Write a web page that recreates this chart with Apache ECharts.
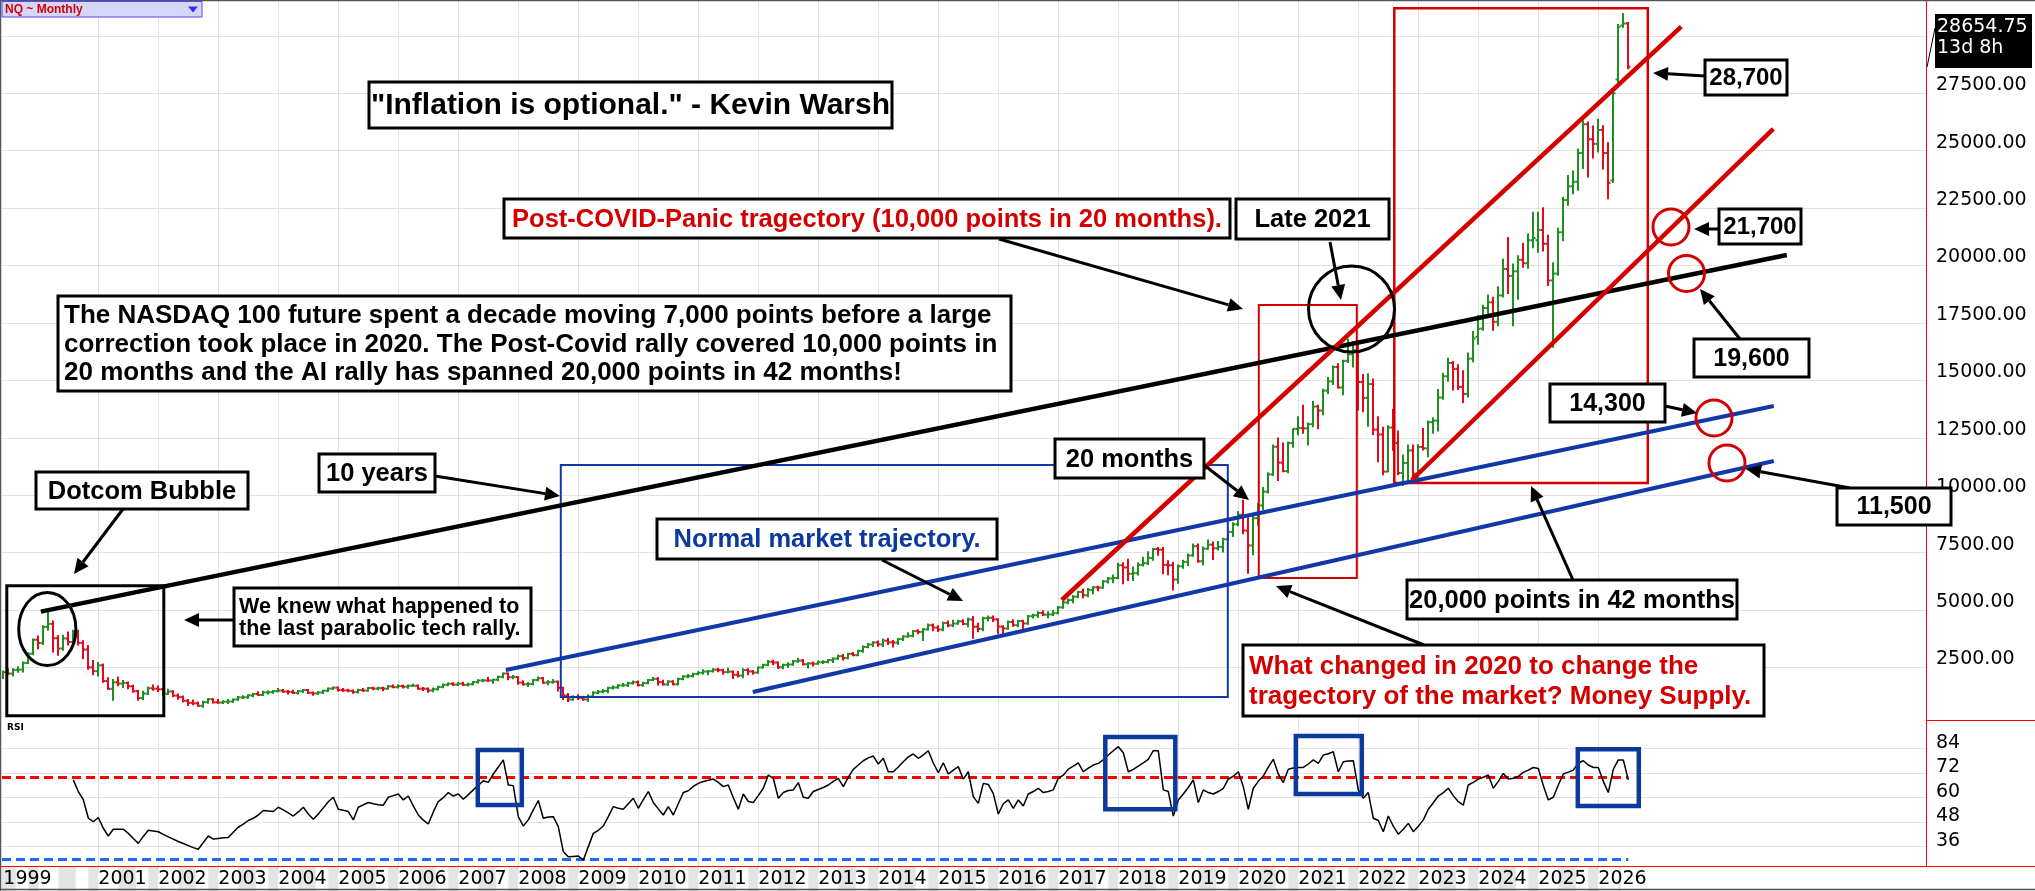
<!DOCTYPE html>
<html><head><meta charset="utf-8">
<script src="https://cdn.jsdelivr.net/npm/echarts@6/dist/echarts.min.js"></script>
<style>html,body{margin:0;padding:0;background:#fff;}#c{width:2035px;height:891px;}</style>
</head><body><div id="c"></div>
<script>
// ---------- DATA ----------
// month index: 0 = Jan 2000 ; first bar = Jun 1999
const firstMonth = -7;
// monthly bars [open, high, low, close]
const ohlc = [
// 1999 Jun-Dec
[2110,2320,2040,2296],[2296,2420,2220,2234],[2234,2420,2150,2396],[2396,2510,2310,2407],[2407,2720,2330,2700],[2700,3120,2690,3100],[3100,3720,3080,3708],
// 2000
[3708,3850,3340,3570],[3570,4290,3520,4266],[4266,4900,4140,4397],[4397,4500,3200,3774],[3774,3870,3050,3325],[3325,3880,3270,3763],
[3763,4020,3500,3609],[3609,4100,3550,4078],[4078,4100,3500,3571],[3571,3640,2900,3283],[3283,3430,2450,2506],[2506,2780,2200,2341],
// 2001
[2341,2700,2150,2593],[2593,2630,1880,1908],[1908,2030,1560,1573],[1573,1960,1090,1855],[1855,2060,1730,1800],[1800,1910,1650,1830],
[1830,1850,1600,1683],[1683,1710,1440,1469],[1469,1490,1090,1168],[1168,1440,1130,1364],[1364,1630,1340,1596],[1596,1720,1530,1577],
// 2002
[1577,1670,1480,1550],[1550,1560,1300,1359],[1359,1530,1350,1452],[1452,1460,1250,1277],[1277,1320,1140,1208],[1208,1240,1020,1051],
[1051,1080,870,962],[962,1060,900,942],[942,970,830,832],[832,1010,795,989],[989,1130,960,1116],[1116,1120,970,984],
// 2003
[984,1080,960,973],[973,1030,950,1011],[1011,1080,955,1018],[1018,1110,1005,1106],[1106,1210,1095,1197],[1197,1250,1175,1201],
[1201,1290,1185,1283],[1283,1350,1245,1345],[1345,1420,1300,1303],[1303,1440,1300,1416],[1416,1450,1370,1424],[1424,1480,1400,1468],
// 2004
[1468,1560,1460,1494],[1494,1520,1440,1450],[1450,1480,1370,1438],[1438,1490,1390,1393],[1393,1480,1370,1466],[1466,1520,1430,1516],
[1516,1520,1390,1400],[1400,1410,1310,1369],[1369,1430,1360,1412],[1412,1490,1390,1486],[1486,1590,1480,1582],[1582,1630,1560,1621],
// 2005
[1621,1630,1500,1519],[1519,1560,1480,1504],[1504,1530,1460,1483],[1483,1500,1400,1424],[1424,1530,1410,1514],[1514,1560,1490,1493],
[1493,1610,1485,1606],[1606,1620,1550,1580],[1580,1620,1555,1601],[1601,1620,1510,1578],[1578,1690,1570,1678],[1678,1720,1640,1645],
// 2006
[1645,1730,1630,1692],[1692,1710,1630,1662],[1662,1720,1620,1704],[1704,1750,1690,1706],[1706,1720,1570,1578],[1578,1610,1520,1575],
[1575,1580,1440,1499],[1499,1580,1470,1554],[1554,1660,1540,1654],[1654,1760,1640,1747],[1747,1800,1730,1791],[1791,1810,1740,1757],
// 2007
[1757,1830,1740,1794],[1794,1840,1740,1744],[1744,1790,1720,1772],[1772,1870,1770,1863],[1863,1940,1850,1934],[1934,1960,1900,1934],
[1934,2040,1920,1933],[1933,1970,1830,1968],[1968,2100,1940,2091],[2091,2240,2080,2239],[2239,2240,1990,2077],[2077,2130,2030,2085],
// 2008
[2085,2090,1790,1841],[1841,1900,1760,1770],[1770,1820,1690,1781],[1781,1960,1770,1950],[1950,2060,1940,2030],[2030,2040,1830,1837],
[1837,1900,1770,1860],[1860,1960,1840,1880],[1880,1890,1500,1615],[1615,1620,1130,1282],[1282,1350,1040,1108],[1108,1250,1100,1212],
// 2009
[1212,1290,1130,1175],[1175,1230,1100,1110],[1110,1290,1040,1237],[1237,1420,1220,1403],[1403,1480,1380,1446],[1446,1520,1420,1477],
[1477,1620,1420,1612],[1612,1670,1590,1631],[1631,1730,1620,1718],[1718,1780,1700,1725],[1725,1830,1690,1814],[1814,1890,1800,1860],
// 2010
[1860,1890,1720,1731],[1731,1830,1700,1819],[1819,1960,1810,1957],[1957,2040,1950,2005],[2005,2040,1760,1863],[1863,1920,1760,1764],
[1764,1900,1750,1886],[1886,1900,1770,1769],[1769,2010,1760,2000],[2000,2120,1990,2112],[2112,2170,2070,2124],[2124,2230,2110,2218],
// 2011
[2218,2290,2200,2268],[2268,2380,2240,2324],[2324,2350,2210,2338],[2338,2420,2320,2404],[2404,2440,2340,2385],[2385,2400,2230,2296],
[2296,2440,2290,2317],[2317,2330,2040,2183],[2183,2300,2110,2146],[2146,2420,2080,2389],[2389,2420,2200,2329],[2329,2350,2230,2278],
// 2012
[2278,2500,2270,2500],[2500,2620,2500,2615],[2615,2780,2600,2751],[2751,2790,2640,2715],[2715,2720,2480,2511],[2511,2620,2470,2615],
[2615,2680,2530,2632],[2632,2780,2620,2770],[2770,2880,2750,2800],[2800,2830,2630,2640],[2640,2680,2500,2677],[2677,2720,2590,2661],
// 2013
[2661,2760,2660,2731],[2731,2770,2700,2739],[2739,2830,2730,2819],[2819,2890,2740,2887],[2887,3020,2880,2990],[2990,3040,2850,2910],
[2910,3100,2900,3094],[3094,3130,3030,3036],[3036,3230,3030,3218],[3218,3410,3180,3393],[3393,3520,3380,3500],[3500,3600,3440,3592],
// 2014
[3592,3630,3450,3505],[3505,3720,3430,3668],[3668,3740,3520,3596],[3596,3650,3410,3582],[3582,3740,3520,3736],[3736,3860,3700,3849],
[3849,3990,3840,3880],[3880,4090,3860,4083],[4083,4120,3990,4049],[4049,4160,3700,4158],[4158,4370,4150,4339],[4339,4370,4120,4236],
// 2015
[4236,4300,4090,4153],[4153,4450,4120,4439],[4439,4500,4300,4334],[4334,4530,4300,4414],[4414,4540,4400,4508],[4508,4560,4380,4396],
[4396,4630,4290,4588],[4588,4700,3790,4274],[4274,4400,4080,4181],[4181,4660,4120,4648],[4648,4720,4560,4664],[4664,4720,4520,4593],
// 2016
[4593,4600,4000,4279],[4279,4300,3960,4201],[4201,4500,4190,4483],[4483,4560,4320,4341],[4341,4540,4300,4523],[4523,4530,4210,4418],
[4418,4740,4400,4731],[4731,4800,4680,4771],[4771,4900,4700,4875],[4875,4940,4780,4801],[4801,4900,4690,4810],[4810,4960,4790,4864],
// 2017
[4864,5130,4860,5118],[5118,5350,5100,5330],[5330,5460,5300,5436],[5436,5610,5340,5584],[5584,5800,5560,5788],[5788,5900,5560,5647],
[5647,5920,5600,5880],[5880,6000,5730,5988],[5988,6010,5860,5979],[5979,6260,5970,6248],[6248,6400,6200,6374],[6374,6500,6210,6397],
// 2018
[6397,7020,6380,6949],[6949,7040,6170,6854],[6854,7190,6310,6582],[6582,6850,6310,6605],[6605,7030,6550,6967],[6967,7280,6940,7040],
[7040,7520,7010,7272],[7272,7660,7190,7658],[7658,7700,7410,7627],[7627,7700,6600,6967],[6967,7130,6560,6949],[6949,7050,5900,6330],
// 2019
[6330,6940,6190,6907],[6907,7150,6840,7097],[7097,7420,6960,7378],[7378,7850,7370,7781],[7781,7860,7100,7127],[7127,7720,6980,7672],
[7672,8030,7670,7848],[7848,7940,7220,7692],[7692,7960,7640,7750],[7750,8110,7550,8084],[8084,8440,8080,8403],[8403,8780,8230,8733],
// 2020
[8733,9270,8690,9150],[9150,9760,8340,8462],[8462,9000,6630,7813],[7813,9070,7430,9000],[9000,9620,8700,9556],[9556,10310,9400,10156],
[10156,10960,10120,10906],[10906,12170,10880,12111],[12111,12470,10660,11418],[11418,12250,11040,11052],[11052,12300,11000,12269],[12269,12860,12110,12888],
// 2021
[12888,13400,12650,12925],[12925,13900,12720,12909],[12909,13120,12210,13091],[13091,14060,13000,13861],[13861,13900,12920,13687],[13687,14590,13530,14554],
[14554,15100,14450,14959],[14959,15600,14840,15583],[15583,15700,14690,14690],[14690,15860,14400,15850],[15850,16770,15800,16135],[16135,16660,15600,16320],
// 2022
[16320,16580,13730,14930],[14930,15240,13660,14238],[14238,15270,13020,14839],[14839,15040,12660,12855],[12855,13400,11480,12643],[12643,12940,10910,11028],
[11028,13000,11040,12947],[12947,13720,11980,12272],[12272,12780,10910,10971],[10971,11730,10440,11405],[11405,12160,10670,11952],[11952,12170,10690,10940],
// 2023
[10940,12180,10700,12101],[12101,12880,11990,12042],[12042,13210,11700,13181],[13181,13340,12720,13246],[13246,14580,12820,14254],[14254,15290,14200,15179],
[15179,15940,14980,15758],[15758,15800,14600,15501],[15501,15660,14630,14715],[14715,15400,14060,14410],[14410,16170,14300,15947],[15947,17110,15830,16826],
// 2024
[16900,17800,16600,17250],[17250,18250,17200,18150],[18150,18700,17950,18400],[18400,18600,17200,17550],[17550,19050,17400,18700],[18700,20250,18650,19850],
[19850,21200,18800,19550],[19550,20050,17400,19750],[19750,20400,18550,20250],[20250,20950,19950,20100],[20100,21350,19900,21100],[21100,22300,20800,21200],
// 2025
[21100,22300,20600,21550],[21550,22500,20650,20950],[20950,21300,19150,19350],[19350,20100,16460,19650],[19650,21600,19600,21450],[21450,22950,21100,22850],
[22850,23900,22650,23450],[23450,24100,23150,23650],[23650,25050,23300,24900],[24900,26280,24250,26150],[26150,26230,23880,25500],[25500,26050,24700,25300],
// 2026 Jan-Jul
[25300,26350,24970,25900],[25900,26060,24230,24900],[24900,25330,22930,23600],[23700,27700,23650,27500],[28100,30470,28000,30400],[30450,30950,30400,30540],[30540,30560,28590,28655]
];
// RSI (14, monthly), first value Aug 2000
const rsiStart = 7;
const rsi = [
68.7,63,59,50,48.2,
50.3,45,41.2,44.5,44.5,44.5,42.5,40,37.6,41,44,43.7,
43.3,42,40.8,39.7,38.5,37.5,36.5,35.5,34.7,38,41.2,39.7,
40,40.3,40.5,43,45.5,47,48.8,49.9,51.5,53.7,53.5,53.2,
55.3,54,52.5,51,53,55.3,52,49.4,52,55,58,60.2,
54.3,53.8,53.2,49.1,55.3,56.5,57.6,57,56.5,56.3,60.2,61,
61.8,58.9,60.8,56,51.5,49,47.1,53,58.1,60,62.5,60.8,
61.8,59.2,61.5,63.8,66,68.3,67.5,71.6,75,78.5,66.2,65.9,
50.7,46.1,49.1,54,58.6,49.9,50.5,50.7,45.8,33.5,31,31.2,
31.4,29.4,36,42.5,44,46.1,50.7,55.6,54.8,54.3,57,59.7,
54.8,59,63,57.6,54.5,51.5,55.6,51.5,57,62.5,63.4,65.5,
67,67.9,68.5,69.1,67.5,65.4,66.2,60,54.3,61.8,58.1,57.6,
61,64.6,71.1,69.5,59.7,62.5,63.5,63.8,67.4,60.2,59.7,63,
64,65,66.2,68,69.5,65.4,70,73.9,76,78.1,79.5,80.4,
76.5,79.3,72.7,72.7,75,77.6,80,81.4,79.3,81,83,77,
72.2,77.1,71.6,73.5,75.2,69.1,72.7,60.5,57.2,67,66.5,62,
52,57,58.9,54.8,58.9,55.9,61.8,63,64.6,62.5,63,63.8,
69.5,71,74,75.5,77.1,72.7,74.5,76,76.8,78.5,80.9,83,
85,82,72.7,73.9,75.5,77.1,78.8,83,83,63.8,63,51,
58.9,61.8,65,68.7,57.6,63.8,62.5,61.8,63,64.6,69.1,70.5,
72.7,65.4,54.3,64.6,68,70.6,75,78.8,71.6,67.4,73.9,74.5,
74.8,74.8,76.5,78.5,76.8,80.9,81.5,82.5,72.7,77.6,78,78.1,
63.8,59.7,62.5,49.9,48.8,43.3,51,46,42.1,44.5,47.4,43.3,
46,49.1,54.3,57.5,60.8,62.5,64.6,61,58,56.4,66.2,67.5,
69.1,70,71.1,64.6,68,71.9,69.1,69.5,70.4,72.4,73.5,74.8,
74.3,66,58.9,60.2,66.2,71.6,72.5,73.5,77,78.1,76,74.8,
74.8,68,62.5,73.9,78.5,78.5,68.7
];
const rsiLevels = [70, 30];
const yearLabels = ['1999','2001','2002','2003','2004','2005','2006','2007','2008','2009','2010','2011','2012','2013','2014','2015','2016','2017','2018','2019','2020','2021','2022','2023','2024','2025','2026'];
const priceLabelTicks = [2500,5000,7500,10000,12500,15000,17500,20000,22500,25000,27500];
const priceGridTicks = [2500,5000,7500,10000,12500,15000,17500,20000,22500,25000,27500,30000];
const rsiTicks = [36,48,60,72,84];
const lastPrice = '28654.75';
const barTimeLeft = '13d 8h';

// trend lines drawn on the chart, in [month, price]
const trendBlack = [[0.5,4930],[349.7,20460]];
const trendBlueUpper = [[93.5,2390],[347.1,13885]];
const trendBlueLower = [[142.9,1433],[347.1,11490]];
const trendRedUpper = [[204.7,5438],[328.6,30400]];
const trendRedLower = [[274.7,10663],[347,25946]];
// highlight rectangles [m1, v1, m2, v2]
const rectDotcom = [-6.3,6061,25.1,401];
const rectNormal = [104.5,11316,237.9,1215];
const rectCovid = [244.1,18283,263.7,6396];
const rectAI = [271.2,31201,321.9,10533];
// RSI highlight boxes [m1, r1, m2, r2]
const rsiBoxes = [[87.9,83.4,96.7,56.4],[213.4,89.7,227.4,54.3],[251.5,90.2,264.7,61.8],[307.9,83.7,320.1,55.9]];

// ---------- LAYOUT ----------
const X_MIN = -7.26, X_MAX = 377.54;
const P_MAX = 31562;
const GREEN = '#1f8f1f', RED = '#e00b1c', NAVY = '#0b3a9c', TRED = '#d40000';
const yearMonth = l => l === '1999' ? firstMonth : (Number(l) - 2000) * 12;
const labelByMonth = {};
yearLabels.forEach(l => { labelByMonth[yearMonth(l)] = l; });
const tickMonths = yearLabels.map(yearMonth);
const gridMonths = yearLabels.filter(l => l !== '1999').map(yearMonth);

const barData = ohlc.map((r, i) => [firstMonth + i, r[0], r[1], r[2], r[3]]);
const rsiData = rsi.map((r, i) => [rsiStart + i, r]);
const lastM = firstMonth + ohlc.length - 1;

// date strip shading blocks
const stripes = [];
for (let y = 1999; y <= 2026; y++) {
  const m0 = (y - 2000) * 12;
  [[m0 + 4, m0 + 7.5], [m0 + 10, m0 + 12]].forEach(([a, b]) => {
    const aa = Math.max(a, X_MIN), bb = Math.min(b, lastM - 1.5);
    if (bb > aa) stripes.push([{xAxis: aa}, {xAxis: bb}]);
  });
}

function seg(p, color, w) {
  return [{coord: p[0], lineStyle: {color: color, width: w, type: 'solid'}}, {coord: p[1]}];
}
function rectArea(r, color, w) {
  return [{coord: [r[0], r[1]], itemStyle: {color: 'rgba(0,0,0,0)', borderColor: color, borderWidth: w}}, {coord: [r[2], r[3]]}];
}

// ---------- ANNOTATIONS (screen) ----------
const FONT = '"Liberation Sans", Arial, sans-serif';
const notes = [
  {x:369,y:82,w:523,h:46,t:'"Inflation is optional." - Kevin Warsh',c:'#000',s:30},
  {x:504,y:199,w:726,h:39,t:'Post-COVID-Panic tragectory (10,000 points in 20 months).',c:TRED,s:25.5},
  {x:1236,y:199,w:153,h:40,t:'Late 2021',c:'#000',s:25.5},
  {x:58,y:296,w:953,h:95,t:'The NASDAQ 100 future spent a decade moving 7,000 points before a large\ncorrection took place in 2020. The Post-Covid rally covered 10,000 points in\n20 months and the AI rally has spanned 20,000 points in 42 months!',c:'#000',s:26,lh:28.6,left:64},
  {x:36,y:472,w:212,h:37,t:'Dotcom Bubble',c:'#000',s:25.5},
  {x:319,y:454,w:116,h:38,t:'10 years',c:'#000',s:25.5},
  {x:1055,y:439,w:149,h:39,t:'20 months',c:'#000',s:25.5},
  {x:657,y:519,w:340,h:40,t:'Normal market trajectory.',c:NAVY,s:25.5},
  {x:234,y:588,w:297,h:58,t:'We knew what happened to\nthe last parabolic tech rally.',c:'#000',s:21.5,lh:22.5,left:239},
  {x:1243,y:645,w:521,h:71,t:'What changed in 2020 to change the\ntragectory of the market? Money Supply.',c:TRED,s:26,lh:30,left:1249},
  {x:1407,y:580,w:330,h:39,t:'20,000 points in 42 months',c:'#000',s:25.5},
  {x:1550,y:384,w:115,h:38,t:'14,300',c:'#000',s:25},
  {x:1694,y:339,w:115,h:38,t:'19,600',c:'#000',s:25},
  {x:1837,y:488,w:114,h:37,t:'11,500',c:'#000',s:25},
  {x:1719,y:209,w:82,h:35,t:'21,700',c:'#000',s:24},
  {x:1705,y:60,w:82,h:35,t:'28,700',c:'#000',s:24}
];
const arrows = [
  [123,509,74,574],[234,620,184,620],[435,476,560,496],[1204,465,1249,500],
  [999,239,1243,309],[1330,242,1341,300],[882,560,963,601],[1573,580,1531,486],
  [1424,645,1276,586],[1665,406,1697,413],[1740,339,1700,289],[1719,229,1694,229],
  [1705,76,1653,73],[1850,488,1746,469]
];
const circles = [
  {cx:47.3,cy:629,rx:28.6,ry:36.5,c:'#000'},
  {cx:1351.5,cy:309,rx:43,ry:43,c:'#000'},
  {cx:1671,cy:227,rx:18,ry:18,c:TRED},
  {cx:1686.5,cy:273.5,rx:18,ry:18,c:TRED},
  {cx:1714,cy:418,rx:18,ry:18,c:TRED},
  {cx:1727,cy:463,rx:18,ry:18,c:TRED}
];

const G = [];
// frame & panel lines
G.push({type:'line', shape:{x1:1926.5,y1:0,x2:1926.5,y2:866}, style:{stroke:'#ff0000',lineWidth:1}, z:50});
G.push({type:'line', shape:{x1:1926,y1:720.5,x2:2035,y2:720.5}, style:{stroke:'#ff0000',lineWidth:1}, z:50});
G.push({type:'line', shape:{x1:0,y1:866.5,x2:2035,y2:866.5}, style:{stroke:'#ff0000',lineWidth:1}, z:50});
G.push({type:'line', shape:{x1:0.5,y1:0,x2:0.5,y2:891}, style:{stroke:'#555',lineWidth:1.5}, z:50});
G.push({type:'line', shape:{x1:0,y1:0.5,x2:2035,y2:0.5}, style:{stroke:'#555',lineWidth:1.5}, z:50});
G.push({type:'line', shape:{x1:0,y1:889.5,x2:2035,y2:889.5}, style:{stroke:'#555',lineWidth:1.5}, z:50});
notes.forEach(n => {
  G.push({type:'rect', shape:{x:n.x,y:n.y,width:n.w,height:n.h}, style:{fill:'#fff',stroke:'#000',lineWidth:3}, z:100});
  G.push({type:'text', style:{text:n.t, x: n.left !== undefined ? n.left : n.x + n.w/2, y:n.y + n.h/2 + 1,
    align: n.left !== undefined ? 'left' : 'center', verticalAlign:'middle',
    font:'bold ' + n.s + 'px ' + FONT, fill:n.c, lineHeight:n.lh || n.s * 1.15}, z:101});
});
arrows.forEach(a => {
  const [x1,y1,x2,y2] = a;
  const dx = x2-x1, dy = y2-y1, L = Math.hypot(dx,dy), ux = dx/L, uy = dy/L;
  const hl = 15, hw = 7, bx = x2-ux*hl, by = y2-uy*hl;
  G.push({type:'line', shape:{x1:x1,y1:y1,x2:bx,y2:by}, style:{stroke:'#000',lineWidth:3}, z:99});
  G.push({type:'polygon', shape:{points:[[x2,y2],[bx-uy*hw,by+ux*hw],[bx+uy*hw,by-ux*hw]]}, style:{fill:'#000'}, z:99});
});
circles.forEach(c => {
  G.push({type:'ellipse', shape:{cx:c.cx,cy:c.cy,rx:c.rx,ry:c.ry}, style:{fill:'none',stroke:c.c,lineWidth:3}, z:98});
});
// symbol tab
G.push({type:'rect', shape:{x:2,y:1.5,width:200,height:15.5}, style:{fill:'#d6d6fb',stroke:'#4a4aff',lineWidth:1}, z:60});
G.push({type:'text', style:{text:'NQ ~ Monthly', x:5, y:9.5, verticalAlign:'middle', font:'bold 12px ' + FONT, fill:'#d10000'}, z:61});
G.push({type:'polygon', shape:{points:[[188,6.5],[198,6.5],[193,12.5]]}, style:{fill:'#3030ff'}, z:61});
G.push({type:'text', style:{text:'RSI', x:7, y:728, verticalAlign:'middle', font:'bold 9px "DejaVu Sans", sans-serif', fill:'#000'}, z:61});
// last price tag
G.push({type:'line', shape:{x1:1927,y1:67,x2:1935,y2:28}, style:{stroke:'#000',lineWidth:1}, z:60});
G.push({type:'rect', shape:{x:1935,y:14,width:97,height:54}, style:{fill:'#000'}, z:60});
G.push({type:'text', style:{text:lastPrice, x:1937, y:27, verticalAlign:'middle', font:'19px "DejaVu Sans", sans-serif', fill:'#fff'}, z:61});
G.push({type:'text', style:{text:barTimeLeft, x:1937, y:48, verticalAlign:'middle', font:'19px "DejaVu Sans", sans-serif', fill:'#fff'}, z:61});

const AXFONT = {fontFamily:'"DejaVu Sans", sans-serif', fontSize:19, color:'#000'};

const option = {
  animation: false,
  backgroundColor: '#fff',
  grid: [
    {left:2, right:109, top:0, bottom:166.1},
    {left:2, right:109, top:720, bottom:19.9},
    {left:2, right:109, top:866, bottom:0}
  ],
  xAxis: [
    {type:'value', gridIndex:0, min:X_MIN, max:X_MAX, show:false},
    {type:'value', gridIndex:1, min:X_MIN, max:X_MAX, show:false},
    {type:'value', gridIndex:2, min:X_MIN, max:X_MAX, position:'top', z:10,
      axisLine:{show:false},
      axisTick:{show:true, inside:true, length:5, customValues:tickMonths, lineStyle:{color:'#ff0000', width:1}},
      axisLabel:{show:true, inside:true, margin:4, align:'left', customValues:tickMonths,
        formatter: v => labelByMonth[v] || '', ...AXFONT},
      splitLine:{show:false}}
  ],
  yAxis: [
    {type:'value', gridIndex:0, position:'right', min:0, max:P_MAX, interval:2500,
      axisLine:{show:false},
      axisTick:{show:true, length:5, customValues:priceGridTicks, lineStyle:{color:'#ff0000'}},
      axisLabel:{show:true, margin:10, customValues:priceLabelTicks, formatter: v => Number(v).toFixed(2),
        verticalAlign:'bottom', lineHeight:16, ...AXFONT},
      splitLine:{show:false}},
    {type:'value', gridIndex:1, position:'right', min:24, max:98.07, interval:12,
      axisLine:{show:false},
      axisTick:{show:true, length:5, customValues:rsiTicks, lineStyle:{color:'#ff0000'}},
      axisLabel:{show:true, margin:10, customValues:rsiTicks, verticalAlign:'bottom', lineHeight:12, ...AXFONT},
      splitLine:{show:false}},
    {type:'value', gridIndex:2, min:0, max:1, show:false}
  ],
  series: [
    { // price grid lines
      type:'line', xAxisIndex:0, yAxisIndex:0, data:[], silent:true, z:0,
      markLine:{silent:true, symbol:['none','none'], z:1, label:{show:false},
        lineStyle:{color:'#e2e2e2', width:1, type:'solid'},
        data: priceGridTicks.map(v => ({yAxis:v})).concat(gridMonths.map(m => ({xAxis:m})))}
    },
    { // rsi grid lines
      type:'line', xAxisIndex:1, yAxisIndex:1, data:[], silent:true, z:0,
      markLine:{silent:true, symbol:['none','none'], z:1, label:{show:false},
        lineStyle:{color:'#e2e2e2', width:1, type:'solid'},
        data: rsiTicks.map(v => ({yAxis:v})).concat(gridMonths.map(m => ({xAxis:m})))}
    },
    { // date strip shading
      type:'line', xAxisIndex:2, yAxisIndex:2, data:[], silent:true,
      markArea:{silent:true, z:1, itemStyle:{color:'#e4e4e4'}, label:{show:false}, data:stripes}
    },
    { // OHLC bars
      type:'custom', name:'NQ', xAxisIndex:0, yAxisIndex:0, z:3, clip:true,
      data: barData, encode:{x:0, y:[1,2,3,4]},
      renderItem: function (params, api) {
        const m = api.value(0), o = api.value(1), h = api.value(2), l = api.value(3), c = api.value(4);
        const pH = api.coord([m, h]), pL = api.coord([m, l]), pO = api.coord([m, o]), pC = api.coord([m, c]);
        const col = c >= o ? GREEN : RED;
        const x = Math.round(pH[0]);
        const st = {stroke: col, lineWidth: 2};
        return {type:'group', children:[
          {type:'line', shape:{x1:x, y1:pH[1]-1, x2:x, y2:pL[1]+1}, style:st},
          {type:'line', shape:{x1:x-2.5, y1:pO[1], x2:x, y2:pO[1]}, style:st},
          {type:'line', shape:{x1:x, y1:pC[1], x2:x+2.5, y2:pC[1]}, style:st}
        ]};
      }
    },
    { // trend lines and rectangles on the price panel
      type:'line', xAxisIndex:0, yAxisIndex:0, data:[], silent:true,
      markLine:{silent:true, symbol:['none','none'], z:6, label:{show:false},
        data:[
          seg(trendBlack, '#000', 4.5),
          seg(trendBlueUpper, '#1238a8', 4),
          seg(trendBlueLower, '#1238a8', 4),
          seg(trendRedUpper, TRED, 4.5),
          seg(trendRedLower, TRED, 4.5)
        ]},
      markArea:{silent:true, z:6, label:{show:false},
        data:[
          rectArea(rectDotcom, '#000', 3),
          rectArea(rectNormal, '#1238a8', 2),
          rectArea(rectCovid, TRED, 2),
          rectArea(rectAI, TRED, 2.5)
        ]}
    },
    { // RSI
      type:'line', name:'RSI', xAxisIndex:1, yAxisIndex:1, z:4,
      data: rsiData, showSymbol:false, symbol:'none',
      lineStyle:{color:'#000', width:1.5},
      markLine:{silent:true, symbol:['none','none'], z:3, label:{show:false},
        data:[
          [{coord:[X_MIN, rsiLevels[0]], lineStyle:{color:'#ff0000', width:3, type:[9,5]}}, {coord:[lastM, rsiLevels[0]]}],
          [{coord:[X_MIN, rsiLevels[1]], lineStyle:{color:'#1a6cff', width:3, type:[9,5]}}, {coord:[lastM, rsiLevels[1]]}]
        ]},
      markArea:{silent:true, z:5, label:{show:false},
        data: rsiBoxes.map(b => [{coord:[b[0], b[1]], itemStyle:{color:'rgba(0,0,0,0)', borderColor:NAVY, borderWidth:4.5}}, {coord:[b[2], b[3]]}])}
    }
  ],
  graphic: {elements: G}
};

const chart = echarts.init(document.getElementById('c'), null, {width:2035, height:891});
chart.setOption(option);
</script>
</body></html>
